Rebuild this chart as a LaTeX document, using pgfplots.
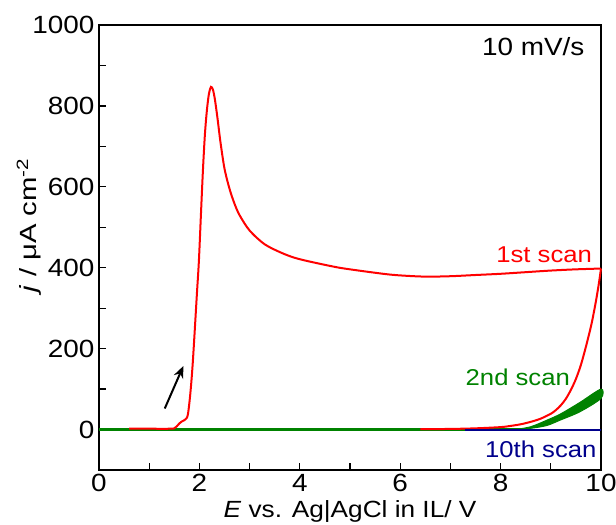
\documentclass[border=0pt]{standalone}
\usepackage{fontspec}
\setmainfont{Liberation Sans}[FakeStretch=1.12]
\newfontfamily\ylabfont{Liberation Sans}[FakeStretch=1.25]
\usepackage{pgfplots}
\pgfplotsset{compat=1.18}
\usetikzlibrary{arrows.meta}
\definecolor{scanred}{RGB}{255,0,0}
\definecolor{scangreen}{RGB}{0,130,0}
\definecolor{scanblue}{RGB}{0,0,140}

\begin{document}
\begin{tikzpicture}
\begin{axis}[
    scale only axis,
    width=502bp, height=445bp,
    xmin=0, xmax=10, ymin=-100, ymax=1000,
    clip=false,
    xtick={0,2,...,10}, ytick={0,200,...,1000},
    minor xtick={1,3,...,9}, minor ytick={-100,100,...,900},
    tick pos=left, tick align=inside,
    major tick length=7bp, minor tick length=7bp,
    every tick/.style={black, line width=1.3bp},
    axis line style={line width=1.8bp},
    ticklabel style={font=\fontsize{25}{25}\selectfont},
    /pgf/number format/assume math mode=true,
    /pgf/number format/1000 sep={},
    xticklabel style={yshift=-1bp},
    yticklabel style={xshift=-1bp},
]
% 10th scan
\addplot[scanblue, line width=2bp] coordinates {(0,0) (10,0)};
% 2nd scan, flat part
\addplot[scangreen, line width=2.6bp] coordinates {(0,0) (8.5,0)};
% 1st scan, forward
\addplot[scanred, line width=2bp, smooth] coordinates {
(0.6,2) (1.0,2) (1.4,2) (1.5,3) (1.55,8) (1.6,15) (1.65,20) (1.72,25) (1.77,37)
(1.82,90) (1.87,169) (1.95,335) (1.99,417) (2.03,530) (2.07,640) (2.11,730)
(2.15,790) (2.19,830) (2.23,847) (2.27,840) (2.31,815) (2.36,770) (2.42,710)
(2.5,645) (2.6,595) (2.7,558) (2.8,530) (3.0,492) (3.3,458) (3.67,435)
(4.0,421) (4.66,403) (5.0,396) (5.66,385) (6.0,381) (6.5,378) (7.0,379)
(7.5,382) (8.0,385) (8.5,389) (9.0,393) (9.5,396) (10,398)};
% 1st scan, return
\addplot[scanred, line width=2bp, smooth] coordinates {
(10,398) (9.95,355) (9.9,318) (9.85,285) (9.8,255) (9.7,205) (9.6,160)
(9.5,125) (9.4,98) (9.3,76) (9.2,60) (9.1,48) (9.0,39) (8.8,27) (8.6,19)
(8.4,13) (8.2,9) (8.0,6) (7.5,3) (7.0,1.5) (6.4,1)};
% 2nd scan, rising loop
\addplot[scangreen, fill=scangreen, line width=1bp, smooth] coordinates {
(8.3,0) (8.6,7) (8.92,23) (9.2,39) (9.58,67) (10,100)
(10,77) (9.58,44) (9.2,24) (8.92,10) (8.6,3) (8.3,0)} --cycle;
\addplot[scanblue, line width=2bp] coordinates {(7.3,0) (10,0)};

\draw[black, line width=2bp, -{Stealth[length=12bp, width=10bp]}]
    (axis cs:1.31,52) -- (axis cs:1.68,157);

\node[anchor=base east, font=\fontsize{25}{25}\selectfont]
    at (axis cs:9.74,925) {10 mV/s};
\node[anchor=base east, text=scanred, font=\fontsize{23}{23}\selectfont]
    at (axis cs:9.89,412) {1st scan};
\node[anchor=base east, text=scangreen, font=\fontsize{23}{23}\selectfont]
    at (axis cs:9.45,109) {2nd scan};
\node[anchor=base east, text=scanblue, font=\fontsize{23}{23}\selectfont]
    at (axis cs:9.98,-69) {10th scan};

\node[anchor=base, font=\fontsize{23.5}{23.5}\selectfont]
    at ([yshift=-47bp]rel axis cs:0.5,0) {\textit{E} vs. Ag|AgCl in IL/ V};
\node[anchor=base, rotate=90, font=\ylabfont\fontsize{23.5}{23.5}\selectfont]
    at ([xshift=-62bp]rel axis cs:0,0.55) {\textit{j} / μA cm\textsuperscript{-2}};

\coordinate (sw) at (rel axis cs:0,0);
\coordinate (ne) at (rel axis cs:1,1);
\end{axis}
\pgfresetboundingbox
\path ([shift={(-99bp,-55bp)}]sw) rectangle ([shift={(15bp,25bp)}]ne);
\end{tikzpicture}
\end{document}
